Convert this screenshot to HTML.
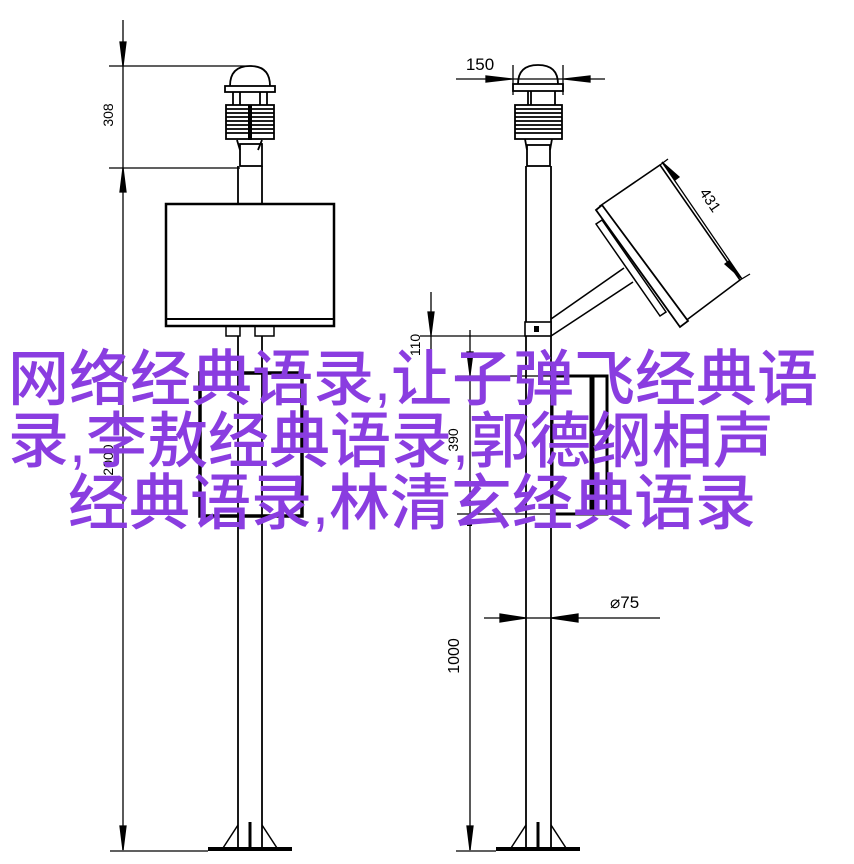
<!DOCTYPE html>
<html><head><meta charset="utf-8"><style>
html,body{margin:0;padding:0;background:#fff;}
#c{position:relative;width:854px;height:864px;overflow:hidden;background:#fff;}
svg{position:absolute;left:0;top:0;}
.t{position:absolute;left:0;color:#8a3de0;font-family:"Liberation Sans","Noto Sans CJK SC",sans-serif;font-size:61px;line-height:62px;white-space:nowrap;font-weight:500;}
</style></head><body><div id="c">
<svg width="854" height="864" viewBox="0 0 854 864" fill="none" stroke="#000" stroke-width="1.3">
<line x1="123" y1="20" x2="123" y2="850"/>
<line x1="109" y1="66" x2="252" y2="66"/>
<line x1="109" y1="168" x2="240" y2="168"/>
<polygon points="123,66 120,42 126,42" fill="#000"/>
<polygon points="123,168 120,192 126,192" fill="#000"/>
<polygon points="123,850 120,826 126,826" fill="#000"/>
<text x="0" y="0" transform="translate(113,115) rotate(-90)" font-family="Liberation Sans Narrow, Liberation Sans, sans-serif" font-size="14" fill="#000" stroke="none" text-anchor="middle">308</text>
<text x="0" y="0" transform="translate(113,460) rotate(-90)" font-family="Liberation Sans Narrow, Liberation Sans, sans-serif" font-size="14" fill="#000" stroke="none" text-anchor="middle">2000</text>
<g stroke-width="1.8">
<path d="M230,86 Q230,66 250,66 Q270,66 270,86"/>
<rect x="225" y="86" width="50" height="6"/>
<line x1="233" y1="92" x2="233" y2="105"/><line x1="240" y1="92" x2="240" y2="105"/><line x1="260" y1="92" x2="260" y2="105"/><line x1="267" y1="92" x2="267" y2="105"/>
<rect x="226" y="105" width="48" height="34"/>
<path d="M226,109H274M226,113H274M226,117H274M226,121H274M226,125H274M226,129H274M226,133H274"/>
<line x1="250" y1="105" x2="250" y2="140" stroke-width="4"/>
<rect x="240" y="144" width="22" height="22"/>
<line x1="237" y1="140" x2="240" y2="150"/><line x1="262" y1="140" x2="258" y2="150"/>
<line x1="238" y1="166" x2="238" y2="204"/><line x1="262" y1="166" x2="262" y2="204"/>
</g>
<rect x="166" y="204" width="168" height="122" stroke-width="2.5"/>
<line x1="166" y1="319" x2="334" y2="319" stroke-width="2"/>
<rect x="226" y="326" width="14" height="10" stroke-width="1.5"/>
<rect x="255" y="326" width="19" height="10" stroke-width="1.5"/>
<line x1="238" y1="336" x2="238" y2="825" stroke-width="1.8"/>
<line x1="262" y1="336" x2="262" y2="825" stroke-width="1.8"/>
<rect x="200" y="373" width="102" height="143" stroke-width="3.5"/>
<line x1="238" y1="825" x2="238" y2="848" stroke-width="1.8"/><line x1="262" y1="825" x2="262" y2="848" stroke-width="1.8"/>
<line x1="110" y1="851" x2="208" y2="851"/>
<line x1="208" y1="849" x2="292" y2="849" stroke-width="4"/>
<line x1="238" y1="825" x2="223" y2="848" stroke-width="1.5"/>
<line x1="262" y1="825" x2="277" y2="848" stroke-width="1.5"/>
<line x1="250" y1="822" x2="250" y2="848" stroke-width="3"/>
<line x1="456" y1="79" x2="605" y2="79"/>
<line x1="513" y1="65" x2="513" y2="95"/><line x1="563" y1="65" x2="563" y2="95"/>
<polygon points="512,79 486,76 486,82" fill="#000"/>
<polygon points="564,79 590,76 590,82" fill="#000"/>
<text x="480" y="70" font-family="Liberation Sans Narrow, Liberation Sans, sans-serif" font-size="17" fill="#000" stroke="none" text-anchor="middle">150</text>
<g stroke-width="1.8">
<path d="M518,84 Q518,65 538,65 Q558,65 558,84"/>
<rect x="513" y="84" width="50" height="7"/>
<line x1="528" y1="91" x2="528" y2="105"/><line x1="531" y1="91" x2="531" y2="105"/><line x1="555" y1="91" x2="555" y2="105"/>
<rect x="515" y="105" width="47" height="34"/>
<path d="M515,109H562M515,113H562M515,117H562M515,121H562M515,125H562M515,129H562M515,133H562"/>
<rect x="527" y="145" width="23" height="21"/>
<line x1="525" y1="139" x2="527" y2="150"/><line x1="552" y1="139" x2="550" y2="150"/>
</g>
<line x1="526" y1="166" x2="526" y2="825" stroke-width="1.8"/>
<line x1="551" y1="166" x2="551" y2="825" stroke-width="1.8"/>
<rect x="525" y="322" width="26" height="14" stroke-width="1.6" fill="#fff"/>
<rect x="534" y="326" width="5" height="6" fill="#000" stroke="none"/>
<line x1="551" y1="319" x2="624" y2="268" stroke-width="1.6"/>
<line x1="551" y1="336" x2="633" y2="282" stroke-width="1.6"/>
<polygon points="600,206 660,165 740,280 684,322" fill="#fff" stroke-width="1.6"/>
<polygon points="596,210 602,205 688,321 680,327" fill="#fff" stroke-width="1.8"/>
<polygon points="596,224 602,220 666,312 660,316" fill="#fff" stroke-width="1.5"/>
<line x1="660" y1="165" x2="668" y2="159"/>
<line x1="740" y1="280" x2="750" y2="274"/>
<line x1="662" y1="162" x2="742" y2="279"/>
<polygon points="662,162 675,180 679,177" fill="#000"/>
<polygon points="742,279 729,261 725,264" fill="#000"/>
<text x="0" y="0" transform="translate(706,203) rotate(56)" font-family="Liberation Sans Narrow, Liberation Sans, sans-serif" font-size="15" fill="#000" stroke="none" text-anchor="middle">431</text>
<line x1="420" y1="336" x2="526" y2="336"/>
<line x1="431" y1="292" x2="431" y2="360"/>
<polygon points="431,335 428,312 434,312" fill="#000"/>
<text x="0" y="0" transform="translate(420,345) rotate(-90)" font-family="Liberation Sans Narrow, Liberation Sans, sans-serif" font-size="14" fill="#000" stroke="none" text-anchor="middle">110</text>
<line x1="470" y1="330" x2="470" y2="850"/>
<polygon points="470,375 467,352 473,352" fill="#000"/>
<line x1="457" y1="376" x2="552" y2="376"/>
<line x1="457" y1="514" x2="552" y2="514"/>
<text x="0" y="0" transform="translate(458,440) rotate(-90)" font-family="Liberation Sans Narrow, Liberation Sans, sans-serif" font-size="14" fill="#000" stroke="none" text-anchor="middle">390</text>
<rect x="552" y="376" width="55" height="138" stroke-width="3"/>
<line x1="592" y1="376" x2="592" y2="514" stroke-width="5"/>
<rect x="467" y="521" width="5" height="5" fill="#000" stroke="none"/>
<polygon points="470,850 467,826 473,826" fill="#000"/>
<text x="0" y="0" transform="translate(459,656) rotate(-90)" font-family="Liberation Sans Narrow, Liberation Sans, sans-serif" font-size="16" fill="#000" stroke="none" text-anchor="middle">1000</text>
<line x1="484" y1="618" x2="660" y2="618"/>
<polygon points="526,618 500,614 500,622" fill="#000"/>
<polygon points="551,618 578,614 578,622" fill="#000"/>
<text x="610" y="608" font-family="Liberation Sans Narrow, Liberation Sans, sans-serif" font-size="17" fill="#000" stroke="none">⌀75</text>
<line x1="456" y1="851" x2="496" y2="851"/>
<line x1="496" y1="849" x2="580" y2="849" stroke-width="4"/>
<line x1="526" y1="825" x2="511" y2="848" stroke-width="1.5"/>
<line x1="551" y1="825" x2="566" y2="848" stroke-width="1.5"/>
<line x1="538" y1="822" x2="538" y2="848" stroke-width="3"/>
<line x1="526" y1="825" x2="526" y2="848" stroke-width="1.8"/><line x1="551" y1="825" x2="551" y2="848" stroke-width="1.8"/>
</svg>
<div class="t" style="top:348px;left:8px;">网络经典语录,让子弹飞经典语</div>
<div class="t" style="top:410px;left:8px;">录,李敖经典语录,郭德纲相声</div>
<div class="t" style="top:472px;left:68px;">经典语录,林清玄经典语录</div>
</div></body></html>
